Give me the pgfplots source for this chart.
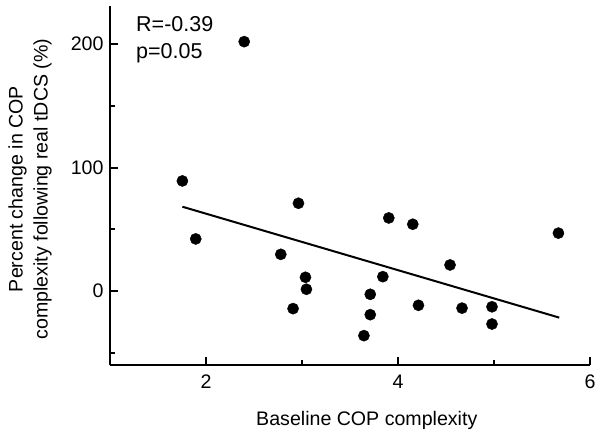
\documentclass[border=0pt]{standalone}
\usepackage{pgfplots}
\pgfplotsset{compat=1.18}
\usepackage{fontspec}
\setmainfont{Liberation Sans}
\begin{document}
\begin{tikzpicture}
\begin{axis}[
  at={(0pt,0pt)}, anchor=south west,
  scale only axis, width=480pt, height=359pt,
  xmin=1, xmax=6, ymin=-60, ymax=231,
  axis x line*=bottom, axis y line*=left,
  axis line style={line width=2.4pt, black, -},
  xtick={2,4,6}, minor xtick={3,5},
  ytick={0,100,200}, minor ytick={-50,50,150},
  tick align=inside,
  major tick length=8pt, minor tick length=5pt,
  every tick/.style={line width=2pt, black},
  /pgf/number format/assume math mode=true,
  tick label style={font=\fontsize{19.6}{23}\selectfont},
  xticklabel style={yshift=-6pt},
  yticklabel style={xshift=-3pt},
  xlabel={Baseline COP complexity},
  xlabel style={font=\fontsize{19.6}{23}\selectfont, anchor=base, at={(rel axis cs:0.535,0)}, yshift=-60pt},
  ylabel={Percent change in COP\\complexity following real tDCS (\%)},
  ylabel style={font=\fontsize{19.6}{25}\selectfont, align=center, anchor=center, at={(rel axis cs:-0.1667,0.49)}},
  clip=false,
]
\addplot[only marks, mark=*, mark size=5.6pt, black] coordinates {
(1.754,89.2) (2.963,71.1) (1.893,42.2) (2.779,29.7) (3.036,11.1)
(3.046,1.4) (2.907,-14.3) (3.904,59.2) (4.154,54.1) (4.542,21.1)
(3.842,11.6) (3.711,-2.7) (3.711,-19.2) (3.645,-36.2) (4.213,-11.6)
(4.667,-13.9) (4.979,-12.8) (4.979,-26.8) (5.671,46.9) (2.398,202.1)
};
\addplot[black, line width=2pt, no marks] coordinates {(1.754,68.3) (5.68,-21.6)};
\node[anchor=base west, inner sep=0pt, font=\fontsize{21.5}{27}\selectfont] at (rel axis cs:0.0542,0.9276) {R=-0.39};
\node[anchor=base west, inner sep=0pt, font=\fontsize{21.5}{27}\selectfont] at (rel axis cs:0.0542,0.8524) {p=0.05};
\end{axis}
\path[use as bounding box] (-110pt,-68pt) rectangle (491pt,365pt);
\end{tikzpicture}
\end{document}
